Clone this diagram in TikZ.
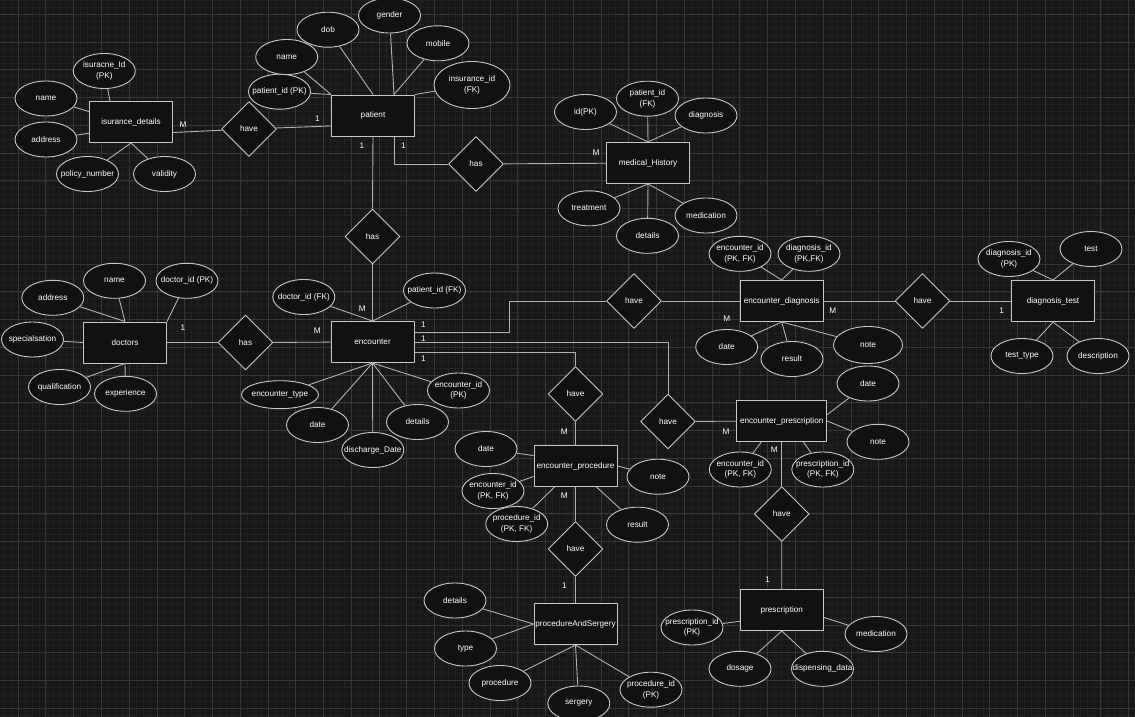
\documentclass[tikz,border=0pt]{standalone}
\usepackage{fontspec}
\setmainfont{Liberation Sans}
\usetikzlibrary{shapes.geometric,calc,positioning}
\definecolor{bgcol}{RGB}{24,24,24}
\definecolor{nodecol}{RGB}{17,17,17}
\definecolor{boxcol}{RGB}{200,200,200}
\definecolor{linecol}{RGB}{178,178,178}
\definecolor{gridminor}{RGB}{32,32,32}
\definecolor{gridmajor}{RGB}{55,55,55}
\begin{document}
\begin{tikzpicture}[x=1pt,y=-1pt,line join=bevel,
  every node/.style={font=\fontsize{8.2}{10.5}\selectfont,text=white},
  entity/.style={draw=boxcol,fill=nodecol,line width=1pt,minimum width=83,minimum height=41,inner sep=0pt},
  rel/.style={draw=boxcol,fill=nodecol,line width=0.9pt,diamond,aspect=1,minimum width=55,minimum height=55,inner sep=0pt},
  attr/.style={draw=boxcol,fill=nodecol,line width=0.9pt,ellipse,minimum width=62,minimum height=35,inner xsep=-40pt,inner ysep=0pt,align=center},
  card/.style={inner sep=0pt},
  link/.style={draw=linecol,line width=0.9pt}]
\useasboundingbox (0,0) rectangle (1135,717);
\fill[bgcol] (0,0) rectangle (1135,717);
\foreach \i in {-2,...,160} \draw[gridminor,line width=0.5pt] ({18.1+6.94*\i},0) -- ++(0,717);
\foreach \j in {-2,...,101} \draw[gridminor,line width=0.5pt] (0,{14.2+6.94*\j}) -- ++(1135,0);
\foreach \i in {0,...,40} \draw[gridmajor,line width=0.8pt] ({18.1+27.76*\i},0) -- ++(0,717);
\foreach \j in {0,...,25} \draw[gridmajor,line width=0.8pt] (0,{14.2+27.76*\j}) -- ++(1135,0);

\node[entity] at (131,122) (ins) {isurance\_details};
\node[entity] at (373,115.5) (pat) {patient};
\node[entity] at (648,163) (mh) {medical\_History};
\node[entity] at (125,342.5) (doc) {doctors};
\node[entity] at (372.5,342) (enc) {encounter};
\node[entity] at (781.7,301) (ed) {encounter\_diagnosis};
\node[entity] at (1053,301) (dt) {diagnosis\_test};
\node[entity] at (575.5,466) (ep) {encounter\_procedure};
\node[entity,minimum width=90] at (781.7,421) (epr) {encounter\_prescription};
\node[entity] at (575.5,624) (pas) {procedureAndSergery};
\node[entity] at (781.8,610) (pr) {prescription};

\node[rel] at (249,129) (hvins) {have};
\node[rel] at (476,164) (hsmh) {has};
\node[rel] at (372.5,236.5) (hsenc) {has};
\node[rel] at (245.5,342.5) (hsdoc) {has};
\node[rel] at (634,301) (hved) {have};
\node[rel] at (922.5,301) (hvdt) {have};
\node[rel] at (575.5,394) (hvep) {have};
\node[rel] at (668,421.5) (hvepr) {have};
\node[rel] at (575.5,549) (hvpas) {have};
\node[rel] at (781.7,514) (hvpr) {have};

\node[attr] at (104.3,71) (insid) {isuracne\_Id\\(PK)};
\node[attr] at (46,98.5) (insname) {name};
\node[attr] at (46,139.5) (insaddr) {address};
\node[attr] at (87.5,174) (inspol) {policy\_number};
\node[attr] at (164.5,174) (insval) {validity};

\node[attr] at (279.5,91.7) (patid) {patient\_id (PK)};
\node[attr] at (286.7,57) (patname) {name};
\node[attr] at (328,29.7) (patdob) {dob};
\node[attr] at (389.5,15.5) (patgen) {gender};
\node[attr] at (438,43.3) (patmob) {mobile};
\node[attr,minimum width=76,minimum height=47] at (472,85) (patinsid) {insurance\_id\\(FK)};

\node[attr] at (585.5,112) (mhid) {id(PK)};
\node[attr] at (647.5,98.7) (mhpid) {patient\_id\\(FK)};
\node[attr] at (706,115.5) (mhdiag) {diagnosis};
\node[attr] at (589,208.3) (mhtreat) {treatment};
\node[attr] at (647.5,235.8) (mhdet) {details};
\node[attr] at (706,215.5) (mhmed) {medication};

\node[attr] at (52.8,297.8) (docaddr) {address};
\node[attr] at (114.5,280.8) (docname) {name};
\node[attr] at (187,280.8) (docid) {doctor\_id (PK)};
\node[attr] at (32.5,339.5) (docspec) {specialsation};
\node[attr] at (59.5,387) (docqual) {qualification};
\node[attr] at (125.5,393.8) (docexp) {experience};

\node[attr] at (303.8,297) (encdid) {doctor\_id (FK)};
\node[attr] at (434.5,290.5) (encpid) {patient\_id (FK)};
\node[attr,minimum width=77,minimum height=28] at (280,394.7) (enctype) {encounter\_type};
\node[attr] at (317.5,425) (encdate) {date};
\node[attr] at (372.8,450) (encdis) {discharge\_Date};
\node[attr] at (417.5,422) (encdet) {details};
\node[attr] at (458.5,390.5) (encid) {encounter\_id\\(PK)};

\node[attr] at (740,253.8) (edeid) {encounter\_id\\(PK, FK)};
\node[attr] at (809,253.8) (eddid) {diagnosis\_id\\(PK,FK)};
\node[attr] at (726.7,347) (eddate) {date};
\node[attr] at (792,359) (edres) {result};
\node[attr,minimum width=69,minimum height=37] at (868,345) (ednote) {note};

\node[attr] at (1009,259) (dtdid) {diagnosis\_id\\(PK)};
\node[attr] at (1091,249) (dttest) {test};
\node[attr] at (1022,356) (dttype) {test\_type};
\node[attr] at (1098,356) (dtdesc) {description};

\node[attr] at (486,449) (epdate) {date};
\node[attr] at (493,491) (epeid) {encounter\_id\\(PK, FK)};
\node[attr] at (516.7,524) (eppid) {procedure\_id\\(PK, FK)};
\node[attr] at (658,476.7) (epnote) {note};
\node[attr] at (637.5,524.7) (epres) {result};

\node[attr] at (868,383.5) (eprdate) {date};
\node[attr] at (878,441.8) (eprnote) {note};
\node[attr] at (740.3,469.5) (epreid) {encounter\_id\\(PK, FK)};
\node[attr] at (822.8,469.5) (eprpid) {prescription\_id\\(PK, FK)};

\node[attr] at (455,600.5) (pasdet) {details};
\node[attr] at (465.5,648.5) (pastype) {type};
\node[attr] at (500,683) (pasproc) {procedure};
\node[attr] at (578.8,703.5) (passerg) {sergery};
\node[attr] at (651,689.7) (paspid) {procedure\_id\\(PK)};

\node[attr] at (692,627.5) (prpid) {prescription\_id\\(PK)};
\node[attr] at (876,634) (prmed) {medication};
\node[attr] at (740,668.8) (prdos) {dosage};
\node[attr] at (822.5,668.8) (prdisp) {dispensing\_data};

\draw[link] (insid) -- (ins.135);
\draw[link] (insname) -- (ins.166);
\draw[link] (insaddr) -- (ins.195);
\draw[link] (inspol) -- (ins.south);
\draw[link] (insval) -- (ins.south);
\draw[link] (ins.-14) -- (hvins);
\draw[link] (hvins) -- (pat.194);

\draw[link] (patid) -- (pat.north west);
\draw[link] (patname) -- (pat.north west);
\draw[link] (patdob) -- (pat.north);
\draw[link] (patgen) -- (pat.45);
\draw[link] (patmob) -- (pat.45);
\draw[link] (patinsid) -- (pat.north east);
\draw[link] (pat.-45) |- (hsmh.west);
\draw[link] (hsmh) -- (mh);
\draw[link] (pat.south) -- (hsenc.north);
\draw[link] (hsenc.south) -- (enc.north);

\draw[link] (mhid) -- (mh.north);
\draw[link] (mhpid) -- (mh.north);
\draw[link] (mhdiag) -- (mh.north);
\draw[link] (mhtreat) -- (mh.south);
\draw[link] (mhdet) -- (mh.south);
\draw[link] (mhmed) -- (mh.south);

\draw[link] (docaddr) -- (doc.north);
\draw[link] (docname) -- (doc.north);
\draw[link] (docid) -- (doc.north east);
\draw[link] (docspec) -- (doc.west);
\draw[link] (docqual) -- (doc.south);
\draw[link] (docexp) -- (doc.south);
\draw[link] (doc) -- (hsdoc);
\draw[link] (hsdoc) -- (enc);

\draw[link] (encdid) -- (enc.north);
\draw[link] (encpid) -- (enc.north);
\draw[link] (enctype) -- (enc.south);
\draw[link] (encdate) -- (enc.south);
\draw[link] (encdis) -- (enc.south);
\draw[link] (encdet) -- (enc.south);
\draw[link] (encid) -- (enc.south);
\draw[link] (enc.13) -| ($(hved.west)+(-97,0)$) -- (hved.west);
\draw[link] (enc.east) -| (hvepr.north);
\draw[link] (enc.-14) -| (hvep.north);
\draw[link] (hved) -- (ed);
\draw[link] (ed) -- (hvdt);
\draw[link] (hvdt) -- (dt);
\draw[link] (hvep) -- (ep);
\draw[link] (hvepr) -- (epr);

\draw[link] (edeid) -- (ed.north);
\draw[link] (eddid) -- (ed.north);
\draw[link] (eddate) -- (ed.south);
\draw[link] (edres) -- (ed.south);
\draw[link] (ednote) -- (ed.south);

\draw[link] (dtdid) -- (dt.north);
\draw[link] (dttest) -- (dt.north);
\draw[link] (dttype) -- (dt.south);
\draw[link] (dtdesc) -- (dt.south);

\draw[link] (epdate) -- (ep.166);
\draw[link] (epeid) -- (ep.194);
\draw[link] (eppid) -- (ep.-135);
\draw[link] (epnote) -- (ep.east);
\draw[link] (epres) -- (ep.-45);
\draw[link] (ep) -- (hvpas);
\draw[link] (hvpas) -- (pas);

\draw[link] (eprdate) -- (epr.8);
\draw[link] (eprnote) -- (epr.east);
\draw[link] (epreid) -- (epr.-134);
\draw[link] (eprpid) -- (epr.-44);
\draw[link] (epr) -- (hvpr);
\draw[link] (hvpr) -- (pr);

\draw[link] (pasdet) -- (pas.west);
\draw[link] (pastype) -- (pas.west);
\draw[link] (pasproc) -- (pas.south);
\draw[link] (passerg) -- (pas.south);
\draw[link] (paspid) -- (pas.south);

\draw[link] (prpid) -- (pr.195);
\draw[link] (prmed) -- (pr.-10);
\draw[link] (prdos) -- (pr.south);
\draw[link] (prdisp) -- (pr.south);

\node[card] at (183,125) (c1) {M};
\node[card] at (317.3,119) (c2) {1};
\node[card] at (403.3,145.7) (c3) {1};
\node[card] at (596,153) (c4) {M};
\node[card] at (362,146) (c5) {1};
\node[card] at (362.3,308.3) (c6) {M};
\node[card] at (183,328) (c7) {1};
\node[card] at (317.3,331) (c8) {M};
\node[card] at (423.3,324.3) (c9) {1};
\node[card] at (423.3,339) (c10) {1};
\node[card] at (423.3,359) (c11) {1};
\node[card] at (726.7,318.3) (c12) {M};
\node[card] at (832.7,310.7) (c13) {M};
\node[card] at (1001.7,310.7) (c14) {1};
\node[card] at (564.3,431.7) (c15) {M};
\node[card] at (564.3,496) (c16) {M};
\node[card] at (564.3,586) (c17) {1};
\node[card] at (726,431.7) (c18) {M};
\node[card] at (774.3,449.3) (c19) {M};
\node[card] at (767.7,579.3) (c20) {1};
\end{tikzpicture}
\end{document}
